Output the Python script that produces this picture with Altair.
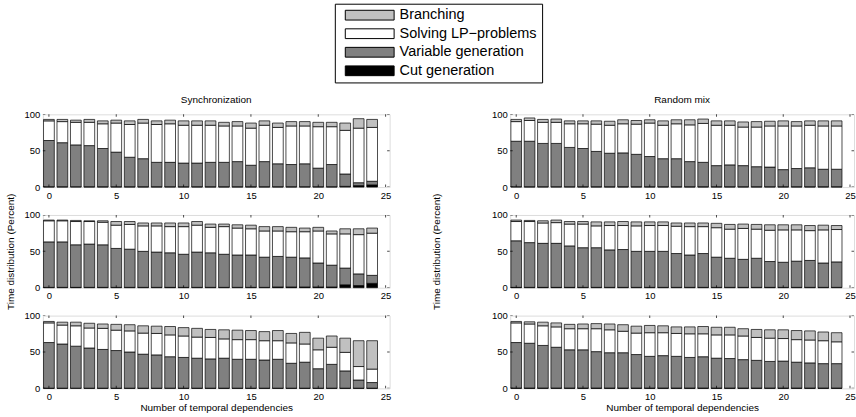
import altair as alt
import pandas as pd

FONT = "Liberation Sans"
IDX = list(range(25))
X_TICKS = [0, 5, 10, 15, 20, 25]
Y_TICKS = [0, 50, 100]
PARTS = ["Branching", "Solving LP\u2212problems", "Variable generation", "Cut generation"]
COLORS = ["#c0c0c0", "#ffffff", "#808080", "#000000"]
COL_TITLES = ["Synchronization", "Random mix"]

# cumulative levels: top of cut, top of variable gen,
# top of LP solving, top of branching (= total)
sync1_cut = [0.5, 0.5, 0.5, 0.5, 0.5, 0.5, 0.5, 0.5, 0.5, 0.5, 0.5, 0.5, 0.5, 0.5, 0.5, 0.5, 0.5, 0.5, 0.5, 0.5, 0.5, 0.5, 1, 2, 3]
sync1_var = [64, 61, 58, 57, 53, 48, 41, 39, 34, 34, 33, 33, 34, 34, 35, 30, 35, 32, 31, 32, 26, 31, 18, 6, 8]
sync1_lp = [91, 90, 89, 89, 87, 88, 86, 88, 86, 87, 85, 85, 85, 84, 84, 81, 85, 82, 84, 84, 83, 83, 78, 81, 82]
sync1_tot = [93, 93, 92, 93, 91, 92, 91, 93, 91, 92, 91, 91, 91, 89, 90, 88, 91, 88, 90, 90, 89, 89, 88, 94, 93]

sync2_cut = [0.5, 0.5, 0.5, 0.5, 0.5, 0.5, 0.5, 0.5, 0.5, 0.5, 0.5, 0.5, 0.5, 0.5, 0.5, 0.5, 0.5, 1, 1, 1, 1, 1, 4, 3, 6]
sync2_var = [63, 63, 59, 60, 59, 54, 53, 50, 49, 48, 46, 49, 48, 46, 45, 45, 42, 43, 42, 41, 34, 31, 27, 19, 17]
sync2_lp = [92, 92, 91, 91, 90, 86, 87, 85, 85, 84, 84, 86, 83, 84, 82, 81, 78, 78, 77, 77, 78, 74, 74, 73, 75]
sync2_tot = [93, 93, 92.5, 92, 92, 91, 91, 89, 89, 89, 89, 91, 87.5, 87.5, 86.5, 86, 84, 84, 83, 82, 83, 78, 81, 81, 82]

sync3_cut = [0.3, 0.3, 0.3, 0.3, 0.3, 0.3, 0.3, 0.3, 0.3, 0.3, 0.3, 0.3, 0.3, 0.3, 0.3, 0.3, 0.3, 0.3, 0.3, 0.3, 0.3, 0.3, 0.3, 0.3, 0.3]
sync3_var = [63, 61, 58, 55.5, 53.5, 52, 50, 47, 46, 43.5, 42.5, 41.5, 40.5, 41.5, 40, 40, 39, 40, 34.5, 36, 27, 33, 24, 11.5, 8]
sync3_lp = [90, 87, 86, 83, 82.5, 80, 79, 76, 75.5, 73.5, 72, 70.5, 70, 68, 67, 67, 65.5, 65.5, 62.5, 61, 53, 56.5, 49.5, 30, 26.5]
sync3_tot = [92, 91, 91, 89.5, 88.5, 88, 87.5, 86, 85.5, 85, 83.5, 82.5, 81, 80.5, 80, 79.5, 78, 79.5, 75.5, 77, 69, 72, 69, 65.5, 65.5]

rand1_cut = [0.5, 0.5, 0.5, 0.5, 0.5, 0.5, 0.5, 0.5, 0.5, 0.5, 0.5, 0.5, 0.5, 0.5, 0.5, 0.5, 0.5, 0.5, 0.5, 0.5, 0.5, 0.5, 0.5, 0.5, 0.5]
rand1_var = [63, 63, 60, 60, 54.5, 53, 49, 46.5, 47, 45, 42, 39, 39, 35, 34, 29.5, 30.5, 29.5, 28, 27.5, 24, 25.5, 26.5, 24.5, 24.5]
rand1_lp = [90, 91.5, 89, 89, 87, 87, 86.5, 85, 87, 86.5, 88, 85, 87, 85.5, 87.5, 85, 85, 82.5, 82.5, 84, 84, 84, 85, 84, 84]
rand1_tot = [93, 95, 93, 93.5, 91, 91, 91, 90.5, 92.5, 91.5, 92.5, 91, 92.5, 92.5, 93.5, 91, 91, 89.5, 90, 90.5, 91, 90, 91, 91, 91]

rand2_cut = [0.5, 0.5, 0.5, 0.5, 0.5, 0.5, 0.5, 0.5, 0.5, 0.5, 0.5, 0.5, 0.5, 0.5, 0.5, 0.5, 0.5, 0.5, 0.5, 0.5, 0.5, 0.5, 0.5, 0.5, 0.5]
rand2_var = [64.5, 62, 61, 61, 57.5, 55, 55, 52, 52.5, 50, 50, 50, 47, 45, 47, 42, 40.5, 39, 40.5, 36, 35, 36.5, 37.5, 34, 35.5]
rand2_lp = [91, 91, 89, 89.5, 87.5, 87.5, 85, 85.5, 85.5, 85, 85.5, 85.5, 84.5, 84, 84, 82.5, 80.5, 81.5, 80.5, 79, 79.5, 79.5, 78.5, 79.5, 80]
rand2_tot = [93, 92.5, 92, 93, 91, 91, 90.5, 90.5, 91, 90.5, 90.5, 90.5, 89, 89, 89, 88.5, 87, 87.5, 87, 86.5, 86.5, 86.5, 85.5, 86, 85.5]

rand3_cut = [0.5, 0.5, 0.5, 0.5, 0.5, 0.5, 0.5, 0.5, 0.5, 0.5, 0.5, 0.5, 0.5, 0.5, 0.5, 0.5, 0.5, 0.5, 0.5, 0.5, 0.5, 0.5, 0.5, 0.5, 0.5]
rand3_var = [63, 62, 59, 56.5, 53, 53, 50.5, 49, 49, 46.5, 44, 45, 44, 42.5, 43.5, 41.5, 41, 39.5, 38.5, 37, 37.5, 36, 35, 34, 34]
rand3_lp = [90, 88.5, 86, 84.5, 82, 82, 82, 80.5, 78.5, 76, 76.5, 76.5, 75.5, 75, 75, 73.5, 73.5, 72, 70, 69, 68.5, 67, 66.5, 65.5, 64]
rand3_tot = [92, 91.5, 91, 90, 88, 88.5, 89, 88.5, 87.5, 85.5, 86.5, 86, 84.5, 84.5, 85, 84, 84, 82, 81, 80.5, 80.5, 79.5, 79, 77.5, 76.5]

PANELS = [
    [(sync1_cut, sync1_var, sync1_lp, sync1_tot), (rand1_cut, rand1_var, rand1_lp, rand1_tot)],
    [(sync2_cut, sync2_var, sync2_lp, sync2_tot), (rand2_cut, rand2_var, rand2_lp, rand2_tot)],
    [(sync3_cut, sync3_var, sync3_lp, sync3_tot), (rand3_cut, rand3_var, rand3_lp, rand3_tot)],
]


def panel_frame(levels):
    cut, var, lp, tot = levels
    rows = []
    for i in IDX:
        segs = [
            ("Cut generation", 0, cut[i]),
            ("Variable generation", cut[i], var[i]),
            ("Solving LP\u2212problems", var[i], lp[i]),
            ("Branching", lp[i], tot[i]),
        ]
        for part, b, t in segs:
            rows.append({"idx": i, "part": part, "bottom": b, "top": t})
    return pd.DataFrame(rows)


xtick_df = pd.DataFrame({"t": X_TICKS})
ytick_df = pd.DataFrame({"v": Y_TICKS})

color_enc = alt.Color(
    "part:N",
    scale=alt.Scale(domain=PARTS, range=COLORS),
    legend=alt.Legend(
        title=None,
        orient="none",
        legendX=293,
        legendY=-111,
        direction="vertical",
        symbolType="M-1,-0.2H1V0.2H-1Z",
        symbolSize=2401,
        symbolStrokeColor="black",
        symbolStrokeWidth=1,
        symbolOpacity=1,
        symbolOffset=5,
        clipHeight=13,
        rowPadding=3.6,
        labelFontSize=14.5,
        labelFont=FONT,
        labelColor="black",
        labelOffset=5,
        padding=5,
        strokeColor="black",
        fillColor="white",
    ),
)

W_L, W_R, H = 348, 345, 73
charts = []
for r in range(3):
    for c in range(2):
        levels = PANELS[r][c]
        df = panel_frame(levels)
        xscale = alt.Scale(domain=[-0.45, 25.3], nice=False, zero=False)
        yscale = alt.Scale(domain=[0, 100], nice=False)
        xaxis = alt.Axis(
            values=X_TICKS, ticks=False, domain=False, grid=False,
            labelFontSize=9.5, labelPadding=3, labelColor="black", labelFont=FONT,
            labelFlush=False,
            title="Number of temporal dependencies" if r == 2 else None,
            titleFontSize=10, titleFontWeight="normal", titleFont=FONT,
            titleColor="black", titlePadding=2,
        )
        yaxis = alt.Axis(
            values=Y_TICKS, ticks=False, domain=False, grid=False,
            labelFontSize=9.5, labelPadding=3, labelColor="black", labelFont=FONT,
            title="Time distribution (Percent)" if r == 1 else None,
            titleFontSize=10, titleFontWeight="normal", titleFont=FONT,
            titleColor="black", titlePadding=9 if c == 0 else 50,
        )
        w = W_L if c == 0 else W_R
        bars = alt.Chart(df).transform_calculate(
            xa="datum.idx - 0.4", xb="datum.idx + 0.4"
        ).mark_bar(stroke="black", strokeWidth=0.7).encode(
            x=alt.X("xa:Q", scale=xscale, axis=xaxis),
            x2="xb:Q",
            y=alt.Y("top:Q", scale=yscale, axis=yaxis),
            y2="bottom:Q",
            color=color_enc,
        )
        xt_top = alt.Chart(xtick_df).mark_tick(color="black", size=5, thickness=1, clip=True).encode(
            x=alt.X("t:Q", scale=xscale, axis=xaxis), y=alt.value(0))
        xt_bot = alt.Chart(xtick_df).mark_tick(color="black", size=5, thickness=1, clip=True).encode(
            x=alt.X("t:Q", scale=xscale, axis=xaxis), y=alt.value(H))
        yt_l = alt.Chart(ytick_df).mark_tick(color="black", size=5, thickness=1, clip=True).encode(
            y=alt.Y("v:Q", scale=yscale, axis=yaxis), x=alt.value(0))
        yt_r = alt.Chart(ytick_df).mark_tick(color="black", size=5, thickness=1, clip=True).encode(
            y=alt.Y("v:Q", scale=yscale, axis=yaxis), x=alt.value(w))
        props = dict(width=w, height=H)
        if r == 0:
            props["title"] = alt.Title(
                COL_TITLES[c], fontSize=10, fontWeight="normal", font=FONT,
                color="black", offset=4,
            )
        charts.append(alt.layer(bars, xt_top, xt_bot, yt_l, yt_r).properties(**props))

chart = alt.concat(
    *charts, columns=2, spacing=alt.RowColnumber(row=28, column=121), bounds="flush"
).resolve_scale(color="shared").properties(
    padding={"left": 4, "top": 2, "right": 0, "bottom": 0},
    background="white",
).configure_view(stroke="black", strokeWidth=1.2).configure(font=FONT)

chart.save("out.html", embed_options={"renderer": "svg", "actions": False})
